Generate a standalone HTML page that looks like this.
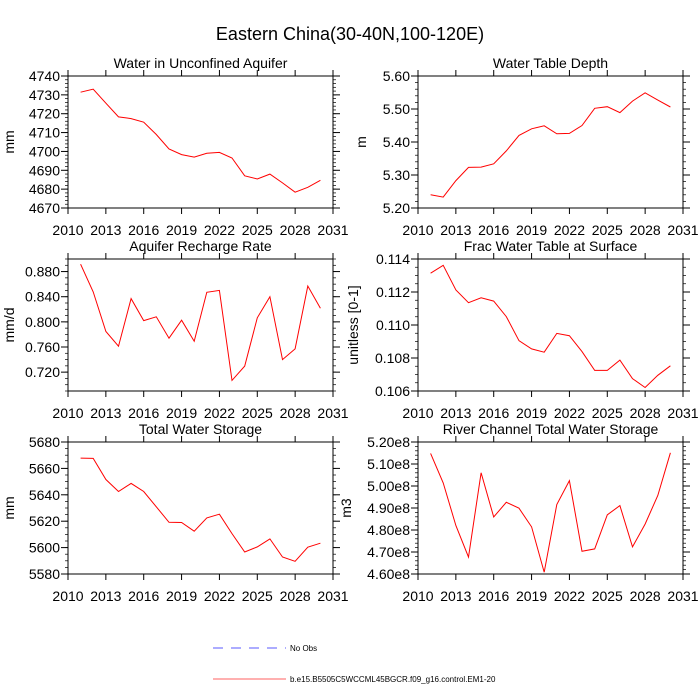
<!DOCTYPE html>
<html><head><meta charset="utf-8">
<style>
html,body{margin:0;padding:0;background:#fff;}
svg{display:block;font-family:"Liberation Sans",Arial,sans-serif;}
</style></head>
<body>
<svg id="chart" width="700" height="700" viewBox="0 0 700 700">
<text x="350" y="40" text-anchor="middle" font-size="18">Eastern China(30-40N,100-120E)</text>
<g>
<line x1="213" y1="648" x2="286" y2="648" stroke="#5a5aff" stroke-width="1" stroke-dasharray="10,8"/>
<text x="290" y="651" font-size="8">No Obs</text>
<line x1="213" y1="679" x2="286" y2="679" stroke="#ff6060" stroke-width="1"/>
<text x="290" y="682" font-size="8">b.e15.B5505C5WCCML45BGCR.f09_g16.control.EM1-20</text>
</g>
</svg>
<script>
const years = [2011,2012,2013,2014,2015,2016,2017,2018,2019,2020,2021,2022,2023,2024,2025,2026,2027,2028,2029,2030];
const xTicks = [2010,2013,2016,2019,2022,2025,2028,2031];
const aquiferWater = [4731.4,4733,4725.6,4718.3,4717.4,4715.5,4709,4701.3,4698.3,4697,4699,4699.5,4696.5,4687.1,4685.4,4688,4683.3,4678.4,4681,4684.7];
const tableDepth = [5.24,5.233,5.283,5.323,5.324,5.334,5.373,5.42,5.44,5.449,5.425,5.426,5.45,5.502,5.507,5.489,5.524,5.549,5.527,5.506];
const recharge = [0.8917,0.8477,0.7846,0.7613,0.837,0.802,0.808,0.774,0.8027,0.7693,0.847,0.850,0.7068,0.7296,0.8065,0.840,0.740,0.757,0.857,0.8218];
const fracSurface = [0.11314,0.11362,0.11212,0.11135,0.11165,0.11145,0.11051,0.10905,0.10855,0.10835,0.10949,0.10935,0.10839,0.10725,0.10725,0.10787,0.10675,0.10621,0.10695,0.10753];
const totalStorage = [5667.8,5667.6,5651.6,5642.5,5648.6,5642.5,5630.9,5619.2,5619,5612.4,5622.5,5625.3,5610.6,5596.7,5600.5,5606.6,5592.9,5589.6,5600.3,5603.3];
const riverStorage = [5.148,5.014,4.82,4.677,5.06,4.859,4.926,4.899,4.814,4.608,4.916,5.024,4.703,4.714,4.869,4.911,4.723,4.827,4.957,5.151];
const ticks1 = ["4670","4680","4690","4700","4710","4720","4730","4740"];
const ticks2 = ["5.20","5.30","5.40","5.50","5.60"];
const ticks3 = ["0.720","0.760","0.800","0.840","0.880"];
const ticks4 = ["0.106","0.108","0.110","0.112","0.114"];
const ticks5 = ["5580","5600","5620","5640","5660","5680"];
const ticks6 = ["4.60e8","4.70e8","4.80e8","4.90e8","5.00e8","5.10e8","5.20e8"];

const svg = document.getElementById('chart');
const NS = 'http://www.w3.org/2000/svg';
function mk(tag, attrs, parent){const e=document.createElementNS(NS,tag);for(const k in attrs)e.setAttribute(k,attrs[k]);parent.appendChild(e);return e;}

const panels = [
 {name:'aquifer-water',title:'Water in Unconfined Aquifer',yl:'mm',x0:68,y0:76,ymin:4670,ymax:4740,major:10,minor:2,ticks:ticks1,data:aquiferWater,ylx:9},
 {name:'water-table-depth',title:'Water Table Depth',yl:'m',x0:418,y0:76,ymin:5.2,ymax:5.6,major:0.1,minor:0.02,ticks:ticks2,data:tableDepth,ylx:361},
 {name:'recharge-rate',title:'Aquifer Recharge Rate',yl:'mm/d',x0:68,y0:259,ymin:0.69,ymax:0.90,major:0.04,minor:0.01,tstart:0.72,ticks:ticks3,data:recharge,ylx:9},
 {name:'frac-water-table',title:'Frac Water Table at Surface',yl:'unitless [0-1]',x0:418,y0:259,ymin:0.106,ymax:0.114,major:0.002,minor:0.0005,ticks:ticks4,data:fracSurface,ylx:353},
 {name:'total-water-storage',title:'Total Water Storage',yl:'mm',x0:68,y0:442,ymin:5580,ymax:5680,major:20,minor:5,ticks:ticks5,data:totalStorage,ylx:9},
 {name:'river-channel-storage',title:'River Channel Total Water Storage',yl:'m3',x0:418,y0:442,ymin:4.6,ymax:5.2,major:0.1,minor:0.02,ticks:ticks6,data:riverStorage,ylx:346}
];
const W=265,H=132;
panels.forEach(p=>{
  const g=mk('g',{},svg);
  
  
  const xs=v=>p.x0+(v-2010)/21*W;
  const ys=v=>p.y0+H-(v-p.ymin)/(p.ymax-p.ymin)*H;
  const fr=mk('rect',{x:p.x0,y:p.y0,width:W,height:H,fill:'none',stroke:'#000','stroke-width':1},g);
  
  
  xTicks.forEach(t=>{
    const X=xs(t);
    mk('line',{x1:X,y1:p.y0+H,x2:X,y2:p.y0+H+6,stroke:'#000'},g);
    mk('line',{x1:X,y1:p.y0,x2:X,y2:p.y0-6,stroke:'#000'},g);
    const tx=mk('text',{x:X,y:p.y0+H+27,'text-anchor':'middle','font-size':14},g);
    tx.textContent=t;
    
    
  });
  const nMinor=Math.round((p.ymax-p.ymin)/p.minor);
  for(let i=0;i<=nMinor;i++){
    const v=p.ymin+i*p.minor;const Y=ys(v);
    mk('line',{x1:p.x0,y1:Y,x2:p.x0-3,y2:Y,stroke:'#000','stroke-width':0.7},g);
    mk('line',{x1:p.x0+W,y1:Y,x2:p.x0+W+3,y2:Y,stroke:'#000','stroke-width':0.7},g);
  }
  const start=p.tstart!==undefined?p.tstart:p.ymin;
  p.ticks.forEach((lab,i)=>{
    const v=start+i*p.major;const Y=ys(v);
    mk('line',{x1:p.x0,y1:Y,x2:p.x0-7,y2:Y,stroke:'#000'},g);
    mk('line',{x1:p.x0+W,y1:Y,x2:p.x0+W+7,y2:Y,stroke:'#000'},g);
    const tx=mk('text',{x:p.x0-8,y:Y+5,'text-anchor':'end','font-size':14},g);
    tx.textContent=lab;
    
    
  });
  const ti=mk('text',{x:p.x0+W/2,y:p.y0-8,'text-anchor':'middle','font-size':14},g);
  ti.textContent=p.title;
  
  
  const yl=mk('text',{x:p.ylx,y:p.y0+H/2,'text-anchor':'middle','font-size':14,transform:`rotate(-90 ${p.ylx} ${p.y0+H/2})`,dy:5},g);
  yl.textContent=p.yl;
  
  
  const pts=p.data.map((v,i)=>xs(years[i]).toFixed(1)+','+ys(v).toFixed(1)).join(' ');
  const pl=mk('polyline',{points:pts,fill:'none',stroke:'#ff0000','stroke-width':1},g);
  
  
});
</script>
</body></html>
